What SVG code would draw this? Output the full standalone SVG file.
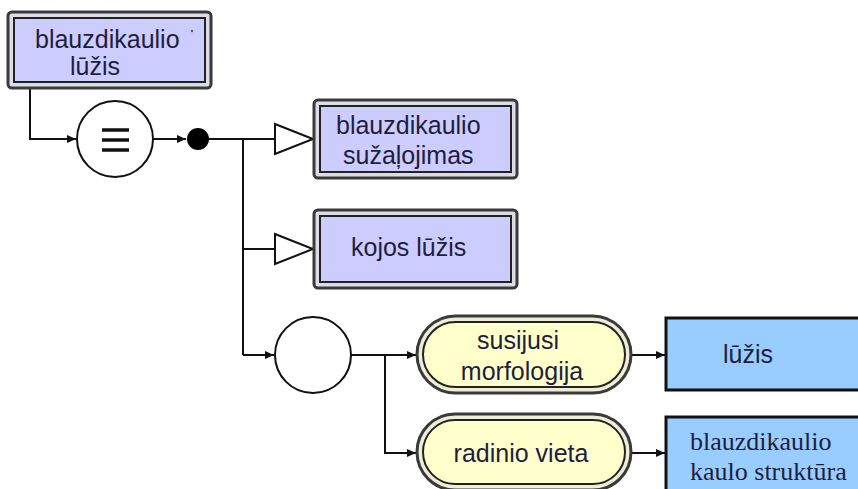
<svg xmlns="http://www.w3.org/2000/svg" width="858" height="489" viewBox="0 0 858 489">
  <style>
    .lbl { font-family: "Liberation Sans", Arial, sans-serif; font-size: 25px; fill: #1e1e3c; }
    .serif { font-family: "Liberation Serif", "Times New Roman", serif; font-size: 26px; fill: #1e1e3c; }
    .outer { fill: #dcdce6; stroke: #3a3a3a; stroke-width: 3; }
    .inner { fill: #ccccff; stroke: #222; stroke-width: 2; }
    .pouter { fill: #eeeed8; stroke: #3a3a3a; stroke-width: 3; }
    .pinner { fill: #ffffcc; stroke: #222; stroke-width: 2; }
    .value { fill: #99ccff; stroke: #111; stroke-width: 3; }
    .wire { fill: none; stroke: #111; stroke-width: 2; }
    .hollow { fill: #fff; stroke: #111; stroke-width: 2; stroke-linejoin: miter; }
    .ring { fill: #fff; stroke: #111; stroke-width: 2; }
  </style>
  <defs>
    <marker id="tip" markerUnits="userSpaceOnUse" markerWidth="10" markerHeight="10" refX="9" refY="4" orient="auto">
      <path d="M0,0 L9,4 L0,8 z" fill="#111"/>
    </marker>
  </defs>

  <rect width="858" height="489" fill="#fff"/>

  <!-- connectors -->
  <g id="connectors">
    <polyline class="wire" points="30,88 30,139 76,139" marker-end="url(#tip)"/>
    <line class="wire" x1="153" y1="139" x2="186" y2="139" marker-end="url(#tip)"/>
    <polyline class="wire" points="209,139 275,139"/>
    <line class="wire" x1="243" y1="139" x2="243" y2="355"/>
    <line class="wire" x1="243" y1="249" x2="275" y2="249"/>
    <line class="wire" x1="243" y1="355" x2="274" y2="355" marker-end="url(#tip)"/>
    <polygon class="hollow" points="275,124 313,139 275,154"/>
    <polygon class="hollow" points="275,234 313,249 275,264"/>
    <line class="wire" x1="351" y1="355" x2="416" y2="355" marker-end="url(#tip)"/>
    <polyline class="wire" points="385,355 385,453 416,453" marker-end="url(#tip)"/>
    <line class="wire" x1="631" y1="355" x2="665" y2="355" marker-end="url(#tip)"/>
    <line class="wire" x1="631" y1="453" x2="665" y2="453" marker-end="url(#tip)"/>
  </g>

  <!-- class: blauzdikaulio lūžis -->
  <g id="node-blauzdikaulio-luzis">
    <rect class="outer" x="8" y="12" width="203" height="76" rx="4"/>
    <rect class="inner" x="14" y="18" width="191" height="64"/>
    <text class="lbl" x="35" y="48">blauzdikaulio</text>
    <text class="lbl" x="70" y="75">lūžis</text>
    <circle cx="192" cy="31" r="1.2" fill="#555"/>
  </g>

  <!-- equivalence operator -->
  <g id="node-equiv">
    <circle class="ring" cx="115" cy="139" r="38"/>
    <g stroke="#111" stroke-width="3.5">
      <line x1="102" y1="130" x2="129" y2="130"/>
      <line x1="102" y1="140" x2="129" y2="140"/>
      <line x1="102" y1="150" x2="129" y2="150"/>
    </g>
  </g>

  <!-- intersection point -->
  <g id="node-and">
    <circle cx="198" cy="139" r="11" fill="#000"/>
  </g>

  <!-- superclass: blauzdikaulio sužaļojimas -->
  <g id="node-blauzdikaulio-suzalojimas">
    <rect class="outer" x="314" y="100" width="203" height="78" rx="4"/>
    <rect class="inner" x="320" y="106" width="191" height="66"/>
    <text class="lbl" x="336" y="134">blauzdikaulio</text>
    <text class="lbl" x="343" y="164">sužaļojimas</text>
  </g>

  <!-- superclass: kojos lūžis -->
  <g id="node-kojos-luzis">
    <rect class="outer" x="314" y="210" width="203" height="78" rx="4"/>
    <rect class="inner" x="320" y="216" width="191" height="66"/>
    <text class="lbl" x="351" y="256">kojos lūžis</text>
  </g>

  <!-- restriction operator -->
  <g id="node-restriction">
    <circle class="ring" cx="313" cy="355" r="38"/>
  </g>

  <!-- property: susijusi morfologija -->
  <g id="node-susijusi-morfologija">
    <rect class="pouter" x="417" y="316" width="214" height="77" rx="38.5"/>
    <rect class="pinner" x="423" y="322" width="202" height="65" rx="32.5"/>
    <text class="lbl" x="518" y="349" text-anchor="middle">susijusi</text>
    <text class="lbl" x="522" y="380" text-anchor="middle">morfologija</text>
  </g>

  <!-- property: radinio vieta -->
  <g id="node-radinio-vieta">
    <rect class="pouter" x="417" y="414" width="214" height="76" rx="38"/>
    <rect class="pinner" x="423" y="420" width="202" height="64" rx="32"/>
    <text class="lbl" x="521" y="462" text-anchor="middle">radinio vieta</text>
  </g>

  <!-- value: lūžis -->
  <g id="node-value-luzis">
    <rect class="value" x="666" y="318" width="200" height="72"/>
    <text class="lbl" x="723" y="363">lūžis</text>
  </g>

  <!-- value: blauzdikaulio kaulo struktūra -->
  <g id="node-value-struktura">
    <rect class="value" x="666" y="417" width="200" height="80"/>
    <text class="serif" x="690" y="450">blauzdikaulio</text>
    <text class="serif" x="690" y="480">kaulo struktūra</text>
  </g>
</svg>
